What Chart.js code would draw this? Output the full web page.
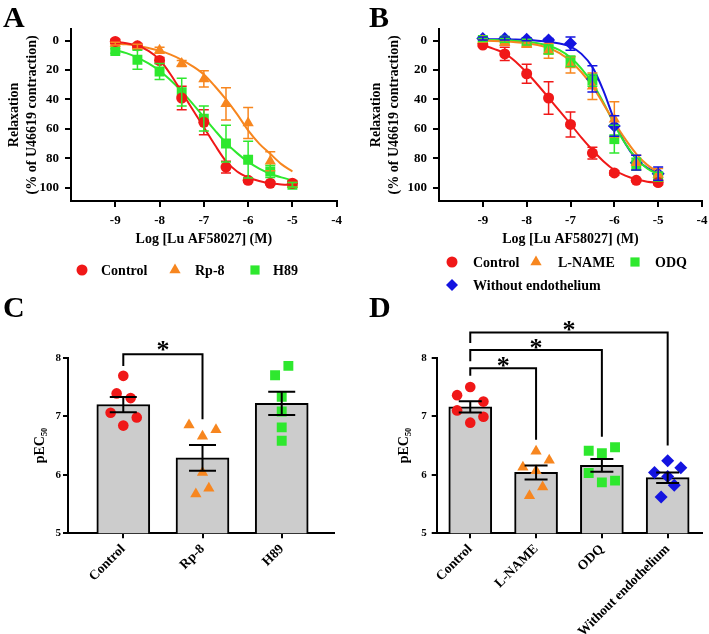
<!DOCTYPE html>
<html>
<head>
<meta charset="utf-8">
<script src="https://cdn.jsdelivr.net/npm/chart.js@4.4.1/dist/chart.umd.min.js"></script>
<style>
  body { margin: 0; background: #fff; }
  #wrap { position: relative; width: 709px; height: 634px; }
  canvas { position: absolute; }
  .letter { position: absolute; font: bold 30px "Liberation Serif", "Times New Roman", serif; line-height: 1; color: #000; }
</style>
</head>
<body>
<div id="wrap">
  <canvas id="chartA" width="354" height="300" style="left:0;top:0"></canvas>
  <canvas id="chartB" width="355" height="300" style="left:354px;top:0"></canvas>
  <canvas id="chartC" width="354" height="334" style="left:0;top:300px"></canvas>
  <canvas id="chartD" width="355" height="334" style="left:354px;top:300px"></canvas>
  <div class="letter" style="left:3px;top:2px">A</div>
  <div class="letter" style="left:369px;top:2px">B</div>
  <div class="letter" style="left:3px;top:292px">C</div>
  <div class="letter" style="left:369px;top:292px">D</div>
</div>
<script>
// ---------- data: concentration-response (A, B) ----------
const logConc = [-9, -8.5, -8, -7.5, -7, -6.5, -6, -5.5, -5];
const fitX = [-9, -8.75, -8.5, -8.25, -8, -7.75, -7.5, -7.25, -7, -6.75, -6.5, -6.25, -6, -5.75, -5.5, -5.25, -5];
const logTicks = [-9, -8, -7, -6, -5, -4];
const relaxTicks = [0, 20, 40, 60, 80, 100];

const aControl = [0.5, 3.5, 13.5, 39, 55.5, 86, 95, 97, 97];
const aControlSem = [1.5, 1.5, 2, 8, 8.5, 4, 1.5, 1, 1.5];
const aRp8 = [2, 4, 6.5, 15.5, 26, 43, 56, 82, 98];
const aRp8Sem = [1, 1.5, 2, 2, 5.5, 11, 10.5, 6.5, 1.5];
const aH89 = [7, 13, 21, 35, 53, 70, 81, 89, 98];
const aH89Sem = [1.5, 6.5, 5.5, 9.5, 8.5, 12.5, 12.5, 4, 1.5];

const aFitControl = [0.8, 1.8, 3.5, 7, 13, 23, 35, 47, 59, 71, 82, 89, 93, 95.5, 97, 97.8, 98.2];
const aFitRp8 = [1.8, 2.5, 3.5, 5, 6.8, 9.5, 13, 17.5, 23, 31, 40, 50, 61, 70, 77, 84, 89];
const aFitH89 = [6.3, 8.5, 11.5, 15.5, 20.5, 27, 34.5, 43, 52, 61, 69.5, 76.5, 82.5, 87, 90.5, 93, 95];

const bControl = [3, 9, 22.5, 39, 57, 76.5, 90, 95, 96.5];
const bControlSem = [1, 4.5, 6.5, 11, 8.5, 4, 1.5, 1, 1.5];
const bLname = [0, 1.5, 2.5, 7, 16.5, 31, 53.5, 83, 91];
const bLnameSem = [1, 1.5, 2, 5, 5.5, 9, 12, 5, 4];
const bOdq = [-0.5, 0, 1.5, 6, 14, 27, 67, 84, 92.5];
const bOdqSem = [1, 1, 1.5, 3, 3.5, 4, 9.5, 4, 3];
const bNoEndo = [-1.5, -1.5, -1, -0.5, 2, 26, 58, 83, 90.5];
const bNoEndoSem = [1, 1, 1, 1, 4.5, 9, 7, 5, 4.5];

const bFitControl = [2.9, 5.6, 8.6, 14.3, 21.7, 30, 38.8, 47.8, 56.7, 66, 74.4, 82, 88, 91.8, 94.3, 95.9, 96.6];
const bFitLname = [0, 0.2, 0.5, 1, 1.8, 3, 5, 8.5, 14, 21.5, 31, 43, 55.5, 67, 77, 84.5, 89.5];
const bFitOdq = [-0.5, -0.4, -0.2, 0.2, 0.8, 1.8, 3.5, 6.5, 11.5, 19, 29, 42, 57, 70, 80, 87, 91];
const bFitNoEndo = [-1, -1, -1, -0.8, -0.5, 0, 0.8, 2, 4, 9, 18, 34, 54, 70, 80.5, 86.5, 90];

// ---------- data: pEC50 (C, D) ----------
const pecTicks = [5, 6, 7, 8];

const cCats = ['Control', 'Rp-8', 'H89'];
const cMeans = [7.20, 6.29, 7.22];
const cSem = [0.13, 0.22, 0.20];
const cControl = [7.69, 7.39, 7.31, 7.06, 6.98, 6.84];
const cRp8 = [6.85, 6.66, 6.77, 6.04, 5.77, 5.67];
const cH89 = [7.86, 7.70, 7.33, 7.08, 6.81, 6.58];

const dCats = ['Control', 'L-NAME', 'ODQ', 'Without endothelium'];
const dMeans = [7.16, 6.04, 6.16, 5.95];
const dSem = [0.095, 0.12, 0.11, 0.09];
const dControl = [7.50, 7.36, 7.25, 7.10, 6.99, 6.89];
const dLname = [6.40, 6.13, 6.25, 6.07, 5.79, 5.64];
const dOdq = [6.41, 6.37, 6.47, 6.03, 5.87, 5.90];
const dNoEndo = [6.24, 6.12, 6.04, 5.97, 5.82, 5.62];

// significance brackets: from/to category, bar height, leg ends (pEC50 units)
const cBrackets = [{ from: 0, to: 1, top: 8.06, leftEnd: 7.86, rightEnd: 6.95, mark: '*' }];
const dBrackets = [
  { from: 0, to: 1, top: 7.82, leftEnd: 7.69, rightEnd: 6.60, mark: '*' },
  { from: 0, to: 2, top: 8.13, leftEnd: 7.94, rightEnd: 6.65, mark: '*' },
  { from: 0, to: 3, top: 8.43, leftEnd: 8.25, rightEnd: 6.50, mark: '*' }
];

// ---------- style ----------
const SERIF = '"Liberation Serif", "Times New Roman", serif';
const RED = '#f01818', ORANGE = '#f7861f', GREEN = '#2ee82e', BLUE = '#1414e0';

// horizontal scatter of the dots within each bar (fraction of bar spacing)
const cJitter = [[0, -0.084, 0.093, -0.16, 0.17, 0], [-0.17, 0, 0.17, 0, 0.08, -0.084], [0.084, -0.084, 0, 0, 0, 0]];
const dJitter = [[0, -0.2, 0.2, -0.2, 0.2, 0], [0, -0.2, 0.2, 0, 0.1, -0.1], [-0.2, 0, 0.2, -0.2, 0, 0.2], [0, 0.2, -0.2, 0, 0.1, -0.1]];

// ---------- plugins ----------
const errorBars = {
  id: 'errorBars',
  afterDatasetsDraw(chart) {
    const ctx = chart.ctx;
    chart.data.datasets.forEach((ds, di) => {
      if (!ds.sem) return;
      const meta = chart.getDatasetMeta(di);
      const ys = chart.scales[meta.yAxisID];
      ctx.save();
      ctx.strokeStyle = ds.errorColor || ds.borderColor;
      ctx.lineWidth = ds.errorWidth || 1.5;
      meta.data.forEach((el, i) => {
        const v = ds.data[i].y, e = ds.sem[i], h = ds.capHalf;
        const y1 = ys.getPixelForValue(v - e), y2 = ys.getPixelForValue(v + e);
        ctx.beginPath();
        ctx.moveTo(el.x, y1); ctx.lineTo(el.x, y2);
        ctx.moveTo(el.x - h, y1); ctx.lineTo(el.x + h, y1);
        ctx.moveTo(el.x - h, y2); ctx.lineTo(el.x + h, y2);
        ctx.stroke();
      });
      ctx.restore();
    });
  }
};

const brackets = {
  id: 'brackets',
  afterDraw(chart, args, opts) {
    if (!opts.items) return;
    const { ctx, scales: { x, y } } = chart;
    ctx.save();
    ctx.strokeStyle = '#000';
    ctx.fillStyle = '#000';
    ctx.lineWidth = 2;
    ctx.font = 'bold 26px ' + SERIF;
    ctx.textAlign = 'center';
    ctx.textBaseline = 'alphabetic';
    opts.items.forEach(b => {
      const x1 = x.getPixelForValue(b.from), x2 = x.getPixelForValue(b.to);
      const yt = y.getPixelForValue(b.top);
      ctx.beginPath();
      ctx.moveTo(x1, y.getPixelForValue(b.leftEnd));
      ctx.lineTo(x1, yt);
      ctx.lineTo(x2, yt);
      ctx.lineTo(x2, y.getPixelForValue(b.rightEnd));
      ctx.stroke();
      ctx.fillText(b.mark, (x1 + x2) / 2, yt + opts.starDy);
    });
    ctx.restore();
  }
};

const panelLegend = {
  id: 'panelLegend',
  afterDraw(chart, args, opts) {
    if (!opts.items) return;
    const ctx = chart.ctx;
    ctx.save();
    ctx.font = 'bold 14px ' + SERIF;
    ctx.textBaseline = 'middle';
    ctx.textAlign = 'left';
    opts.items.forEach(it => {
      const ds = chart.data.datasets[it.dataset];
      ctx.fillStyle = ds.backgroundColor;
      Chart.helpers.drawPoint(ctx, { pointStyle: ds.pointStyle, radius: it.r, rotation: 0, borderWidth: 0 }, it.x, it.y);
      ctx.fillStyle = '#000';
      ctx.fillText(ds.label, it.x + it.gap, it.y + 1);
    });
    ctx.restore();
  }
};

Chart.register(errorBars, brackets, panelLegend);

// ---------- builders ----------
function pts(xs, ys) {
  return ys.map((y, i) => ({ x: xs[i], y: y }));
}

function curveSet(ys, color) {
  return {
    type: 'line', data: pts(fitX, ys), borderColor: color, borderWidth: 2,
    pointRadius: 0, showLine: true, cubicInterpolationMode: 'monotone', fill: false, order: 2
  };
}

function markSet(label, ys, sem, color, style, r) {
  return {
    type: 'scatter', label: label, data: pts(logConc, ys), sem: sem, capHalf: 5, errorWidth: 1.5,
    backgroundColor: color, borderColor: color, pointStyle: style, pointRadius: r,
    pointBorderWidth: 0, order: 1
  };
}

function curveOptions(o) {
  return {
    responsive: false, animation: false, events: [],
    layout: { padding: { top: 28.9, right: o.right, bottom: 49.1, left: 0 } },
    plugins: { legend: { display: false }, tooltip: { enabled: false }, panelLegend: { items: o.legend } },
    scales: {
      x: {
        type: 'linear', min: -10, max: -4, offset: false,
        afterBuildTicks: s => { s.ticks = logTicks.map(v => ({ value: v })); },
        afterFit: s => { s.height = 50; s.paddingLeft = 0; s.paddingRight = 0; },
        border: { display: true, color: '#000', width: 2 },
        grid: { drawOnChartArea: false, drawTicks: true, tickLength: 6, color: '#000', lineWidth: 2 },
        ticks: { color: '#000', padding: 6, maxRotation: 0, font: { family: SERIF, size: 13, weight: 'bold' } },
        title: { display: true, text: 'Log [Lu AF58027] (M)', color: '#000', padding: { top: 0, bottom: 3.5 },
                 font: { family: SERIF, size: 14, weight: 'bold' } }
      },
      y: {
        type: 'linear', min: -8, max: 109, reverse: true,
        afterBuildTicks: s => { s.ticks = relaxTicks.map(v => ({ value: v })); },
        afterFit: s => { s.width = o.yW; s.paddingTop = 0; s.paddingBottom = 0; },
        border: { display: true, color: '#000', width: 2 },
        grid: { drawOnChartArea: false, drawTicks: true, tickLength: 6, color: '#000', lineWidth: 2 },
        ticks: { color: '#000', padding: 6, font: { family: SERIF, size: 13, weight: 'bold' } },
        title: { display: true, text: ['Relaxation', '(% of U46619 contraction)'], color: '#000',
                 padding: { top: o.titlePad, bottom: 0 }, font: { family: SERIF, size: 14, weight: 'bold', lineHeight: 1.3 } }
      }
    }
  };
}

function barSet(cats, means, sem, capHalf, barW) {
  return {
    type: 'bar', data: pts(cats.map((c, i) => i), means), sem: sem, capHalf: capHalf,
    errorColor: '#000', errorWidth: 2, backgroundColor: '#cccccc', borderColor: '#000',
    borderWidth: 2, barThickness: barW, order: 2
  };
}

function dotSet(idx, values, jitter, color, style, r) {
  return {
    type: 'scatter', data: values.map((v, k) => ({ x: idx + jitter[k], y: v })),
    backgroundColor: color, borderColor: color, pointStyle: style, pointRadius: r,
    pointBorderWidth: 0, order: 1
  };
}

function barOptions(o) {
  return {
    responsive: false, animation: false, events: [],
    layout: { padding: { top: 57.7, right: o.right, bottom: 0, left: 0 } },
    plugins: { legend: { display: false }, tooltip: { enabled: false },
               brackets: { items: o.brackets, starDy: o.starDy } },
    scales: {
      x: {
        type: 'linear', min: o.xmin, max: o.xmax, offset: false,
        afterBuildTicks: s => { s.ticks = o.cats.map((c, i) => ({ value: i })); },
        afterFit: s => { s.height = 100.7; s.paddingLeft = 0; s.paddingRight = 0; },
        border: { display: true, color: '#000', width: 2 },
        grid: { offset: false, drawOnChartArea: false, drawTicks: true, tickLength: 5, color: '#000', lineWidth: 2 },
        ticks: { color: '#000', padding: 3, autoSkip: false, minRotation: 45, maxRotation: 45,
                 callback: v => o.cats[v], font: { family: SERIF, size: 13.5, weight: 'bold' } }
      },
      y: {
        type: 'linear', min: 5, max: 8,
        afterBuildTicks: s => { s.ticks = pecTicks.map(v => ({ value: v })); },
        afterFit: s => { s.width = o.yW; s.paddingTop = 0; s.paddingBottom = 0; },
        border: { display: true, color: '#000', width: 2 },
        grid: { drawOnChartArea: false, drawTicks: true, tickLength: 5, color: '#000', lineWidth: 2 },
        ticks: { color: '#000', padding: o.tickPad, font: { family: SERIF, size: 11, weight: 'bold' } },
        title: { display: true, text: 'pEC\u2085\u2080', color: '#000', padding: { top: o.titlePad, bottom: 0 },
                 font: { family: SERIF, size: 14, weight: 'bold' } }
      }
    }
  };
}

// ---------- A ----------
new Chart(document.getElementById('chartA'), {
  type: 'scatter',
  data: { datasets: [
    curveSet(aFitControl, RED), curveSet(aFitRp8, ORANGE), curveSet(aFitH89, GREEN),
    markSet('Control', aControl, aControlSem, RED, 'circle', 5.5),
    markSet('Rp-8', aRp8, aRp8Sem, ORANGE, 'triangle', 6.5),
    markSet('H89', aH89, aH89Sem, GREEN, 'rect', 7)
  ] },
  options: curveOptions({ yW: 71, right: 17.3, titlePad: 5, legend: [
    { dataset: 3, x: 82, y: 270, r: 5.5, gap: 19 },
    { dataset: 4, x: 175, y: 270, r: 6.5, gap: 20 },
    { dataset: 5, x: 255, y: 270, r: 6.5, gap: 18 }
  ] })
});

// ---------- B ----------
new Chart(document.getElementById('chartB'), {
  type: 'scatter',
  data: { datasets: [
    curveSet(bFitControl, RED), curveSet(bFitLname, ORANGE), curveSet(bFitOdq, GREEN), curveSet(bFitNoEndo, BLUE),
    markSet('Control', bControl, bControlSem, RED, 'circle', 5.5),
    markSet('L-NAME', bLname, bLnameSem, ORANGE, 'triangle', 6.5),
    markSet('ODQ', bOdq, bOdqSem, GREEN, 'rect', 7),
    markSet('Without endothelium', bNoEndo, bNoEndoSem, BLUE, 'rectRot', 6.5)
  ] },
  options: curveOptions({ yW: 85, right: 6.7, titlePad: 13, legend: [
    { dataset: 4, x: 98, y: 262, r: 5.5, gap: 21 },
    { dataset: 5, x: 182, y: 262, r: 6.5, gap: 22 },
    { dataset: 6, x: 281, y: 262, r: 6.5, gap: 20 },
    { dataset: 7, x: 98, y: 285, r: 6, gap: 21 }
  ] })
});

// ---------- C ----------
new Chart(document.getElementById('chartC'), {
  type: 'bar',
  data: { datasets: [
    barSet(cCats, cMeans, cSem, 13.5, 53),
    dotSet(0, cControl, cJitter[0], RED, 'circle', 5.3),
    dotSet(1, cRp8, cJitter[1], ORANGE, 'triangle', 6.5),
    dotSet(2, cH89, cJitter[2], GREEN, 'rect', 7)
  ] },
  options: barOptions({ cats: cCats, xmin: -0.698, xmax: 2.66, yW: 68, right: 20, titlePad: 31.6, tickPad: 2,
                        brackets: cBrackets, starDy: 3.5 })
});

// ---------- D ----------
new Chart(document.getElementById('chartD'), {
  type: 'bar',
  data: { datasets: [
    barSet(dCats, dMeans, dSem, 11.5, 43),
    dotSet(0, dControl, dJitter[0], RED, 'circle', 5.3),
    dotSet(1, dLname, dJitter[1], ORANGE, 'triangle', 6.5),
    dotSet(2, dOdq, dJitter[2], GREEN, 'rect', 7),
    dotSet(3, dNoEndo, dJitter[3], BLUE, 'rectRot', 6.5)
  ] },
  options: barOptions({ cats: dCats, xmin: -0.51, xmax: 3.517, yW: 82.7, right: 7.3, titlePad: 41.6, tickPad: 5,
                        brackets: dBrackets, starDy: 5.5 })
});
</script>
</body>
</html>
